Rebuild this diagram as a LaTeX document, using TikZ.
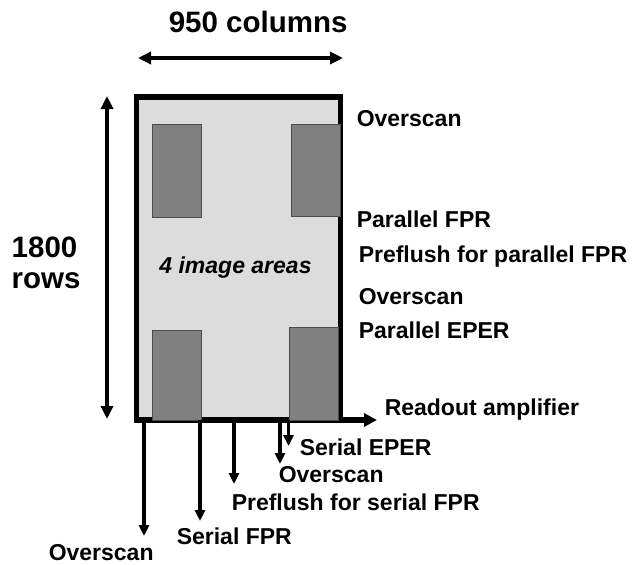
\documentclass[tikz,border=0pt]{standalone}
\usepackage{fontspec}
\setmainfont{Liberation Sans}
\usetikzlibrary{positioning,arrows.meta}
\definecolor{chipgray}{HTML}{DCDCDC}
\definecolor{areagray}{HTML}{808080}

\begin{document}
\begin{tikzpicture}[
    x=1pt,y=-1pt,
    font=\fontsize{23}{27}\selectfont\bfseries,
    line width=3.5pt
  ]
\def\bw{5.5pt}
\useasboundingbox (0,0) rectangle (632,565);

\tikzstyle{area}=[draw=black!70,line width=1pt,fill=areagray,inner sep=0pt,outer sep=0pt,minimum width=49pt]
\tikzstyle{lbl}=[anchor=base west,inner sep=0pt]
\tikzstyle{big}=[font=\fontsize{29.5}{34}\selectfont\bfseries]
\tikzstyle{tip}=[-{Triangle[length=11pt,width=10pt]}]
\tikzstyle{span}=[{Triangle[length=13pt,width=12pt]}-{Triangle[length=13pt,width=12pt]}]

% the detector with its four image areas
\node[draw,line width=\bw,fill=chipgray,minimum width=204pt,minimum height=323pt,inner sep=0pt,outer sep=0pt] (chip) at (238.5,258.5) {};
\node[area,minimum height=93pt] (area1) at (176.5,170.5) {};
\node[area,minimum height=92pt] (area2) at (315.5,170) {};
\node[area,minimum height=90pt] (area3) at (176.5,375) {};
\node[area,minimum height=93pt] (area4) at (314,373.5) {};
\node[anchor=base,inner sep=0pt,font=\fontsize{23}{27}\selectfont\bfseries\itshape] (areas) at (235.5,273) {4 image areas};

% size of the detector
\node[big,lbl] (cols) at (167,32) {950 columns};
\node[big,lbl] (rows1) at (10,257) {1800};
\node[big,lbl] (rows2) at (10,288) {rows};
\coordinate (cl) at (138,58);
\coordinate (cr) at (343,58);
\coordinate (rt) at (107,96);
\coordinate (rb) at (107,419);
\draw[span] (cl) -- (cr);
\draw[span] (rt) -- (rb);

% parallel direction
\node[lbl] (os1) at (355,126) {Overscan};
\node[lbl] (pfpr) at (355,227) {Parallel FPR};
\node[lbl] (ppre) at (357,262) {Preflush for parallel FPR};
\node[lbl] (os2) at (357,304) {Overscan};
\node[lbl] (peper) at (357,338) {Parallel EPER};

% readout
\node[lbl] (amp) at (383,415) {Readout amplifier};
\coordinate (ra) at (377,420);
\draw[line width=\bw,-{Triangle[length=13pt,width=13pt]}] (chip.south east) -- (ra);

% serial direction
\node[lbl] (seper) at (298,455) {Serial EPER};
\node[lbl] (os3) at (277,482) {Overscan};
\node[lbl] (spre) at (230,510) {Preflush for serial FPR};
\node[lbl] (sfpr) at (175,544) {Serial FPR};
\node[lbl] (os4) at (47,560) {Overscan};
\coordinate (t1) at (144,536);
\coordinate (t2) at (200,521);
\coordinate (t3) at (234,484);
\coordinate (t4) at (280,464);
\coordinate (t5) at (288.5,446);
\draw[tip] (t1 |- chip.south) -- (t1);
\draw[tip] (t2 |- chip.south) -- (t2);
\draw[tip] ([yshift=-3pt]t3 |- chip.south) -- (t3);
\draw[tip] (t4 |- chip.south) -- (t4);
\draw[tip] (t5 |- chip.south) -- (t5);

\end{tikzpicture}
\end{document}
